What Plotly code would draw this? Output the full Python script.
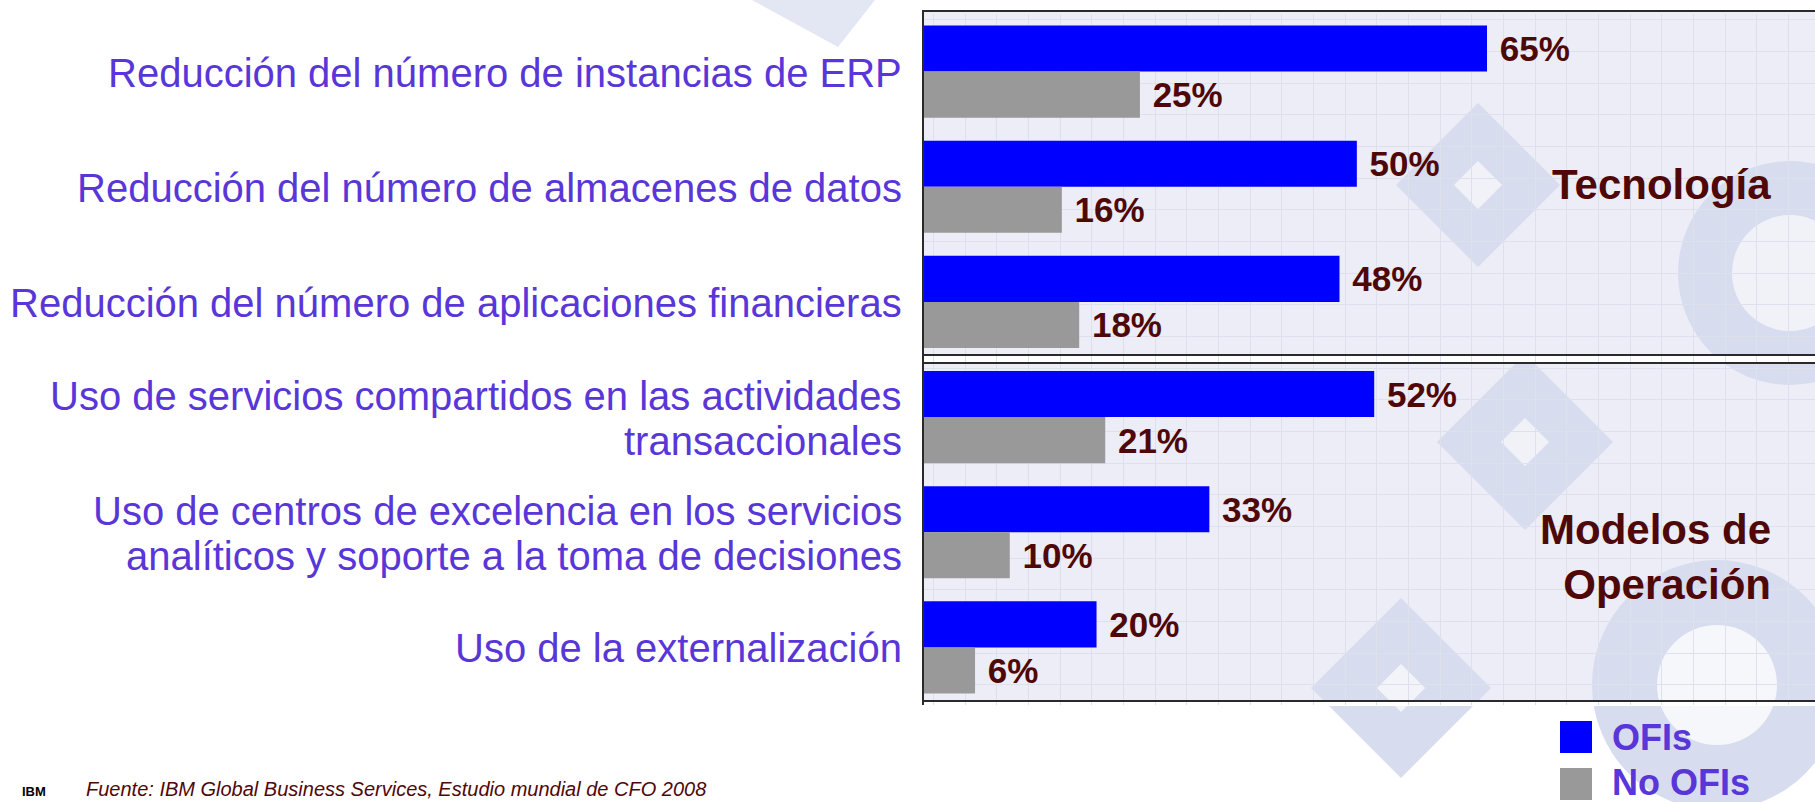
import plotly.graph_objects as go

# datos
categorias = [
    "Reducción del número de instancias de ERP",
    "Reducción del número de almacenes de datos",
    "Reducción del número de aplicaciones financieras",
    "Uso de servicios compartidos en las actividades<br>transaccionales",
    "Uso de centros de excelencia en los servicios<br>analíticos y soporte a la toma de decisiones",
    "Uso de la externalización",
]
ofis = [65, 50, 48, 52, 33, 20]
no_ofis = [25, 16, 18, 21, 10, 6]
posiciones = list(range(len(categorias)))

W, H = 1815, 802
L, T, B = 923, 14, 97
PLOT_W = W - L
PLOT_H = H - T - B

AZUL = "#0000FF"
GRIS = "#999999"
MORADO = "#5836D8"
GRANATE = "#4F0808"
FONDO = "#ECEDF6"
MARCA = "#D8DCEF"
GRID = "#DFE0EE"
FUENTE = "Liberation Sans, Arial, sans-serif"


def px_x(px):
    return (px - L) / PLOT_W


def px_y(py):
    return (H - B - py) / PLOT_H


def rect(x0, y0, x1, y1, **kw):
    return dict(type="rect", xref="paper", yref="paper",
                x0=px_x(x0), x1=px_x(x1), y0=px_y(y1), y1=px_y(y0), **kw)


def rombo(cx, cy, r, color):
    pts = [(cx, cy - r), (cx + r, cy), (cx, cy + r), (cx - r, cy)]
    path = "M " + " L ".join(f"{px_x(x):.5f},{px_y(y):.5f}" for x, y in pts) + " Z"
    return dict(type="path", xref="paper", yref="paper", path=path,
                fillcolor=color, line=dict(width=0), layer="below")


def circulo(cx, cy, r, color):
    return dict(type="circle", xref="paper", yref="paper",
                x0=px_x(cx - r), x1=px_x(cx + r), y0=px_y(cy + r), y1=px_y(cy - r),
                fillcolor=color, line=dict(width=0), layer="below")


fig = go.Figure()
fig.add_trace(go.Bar(
    y=posiciones, x=ofis, orientation="h", name="OFIs",
    marker=dict(color=AZUL, line=dict(width=0)),
    texttemplate="\u00a0%{x}%", textposition="outside", cliponaxis=False,
    textfont=dict(size=35, color=GRANATE, family=FUENTE, weight="bold"),
))
fig.add_trace(go.Bar(
    y=posiciones, x=no_ofis, orientation="h", name="No OFIs",
    marker=dict(color=GRIS, line=dict(width=0)),
    texttemplate="\u00a0%{x}%", textposition="outside", cliponaxis=False,
    textfont=dict(size=35, color=GRANATE, family=FUENTE, weight="bold"),
))

shapes = [
    # fondo de los dos paneles
    rect(L, 11, W + 20, 355, fillcolor=FONDO, line=dict(width=0), layer="below"),
    rect(L, 363, W + 20, 701, fillcolor=FONDO, line=dict(width=0), layer="below"),
    # marca de agua
    dict(type="path", xref="paper", yref="paper",
         path=f"M {px_x(752):.5f},{px_y(0):.5f} L {px_x(875):.5f},{px_y(0):.5f} L {px_x(838):.5f},{px_y(47):.5f} Z",
         fillcolor="#E3E6F3", line=dict(width=0), layer="below"),
    circulo(1790, 273, 112, MARCA), circulo(1790, 273, 58, "#F1F2F8"),
    circulo(1717, 685, 125, MARCA), circulo(1717, 685, 60, "#F6F7FB"),
    rombo(1478, 185, 82, MARCA), rombo(1478, 185, 24, "#F1F2F8"),
    rombo(1525, 442, 88, MARCA), rombo(1525, 442, 24, "#F1F2F8"),
    rombo(1401, 688, 90, MARCA), rombo(1401, 688, 24, "#F3F4F9"),
    # separación blanca entre paneles
    rect(L, 356, W + 20, 362, fillcolor="white", line=dict(width=0), layer="between"),
    rect(L, 702, W + 20, 706, fillcolor="white", line=dict(width=0), layer="between"),
    # bordes
    rect(L, 11, W + 20, 355, line=dict(color="#2A2A2A", width=2), layer="above"),
    rect(L, 363, W + 20, 701, line=dict(color="#2A2A2A", width=2), layer="above"),
    dict(type="line", xref="paper", yref="paper", x0=0, x1=0, y0=px_y(705), y1=px_y(11),
         line=dict(color="#2A2A2A", width=2), layer="above"),
    # leyenda
    rect(1560, 721, 1592, 753, fillcolor=AZUL, line=dict(width=0), layer="above"),
    rect(1560, 768, 1592, 800, fillcolor=GRIS, line=dict(width=0), layer="above"),
]

annotations = [
    dict(text="Tecnología", x=px_x(1773), y=px_y(184), xanchor="right", yanchor="middle",
         font=dict(size=42, color=GRANATE, family=FUENTE, weight="bold")),
    dict(text="Modelos de<br>Operación", x=px_x(1773), y=px_y(557), xanchor="right",
         yanchor="middle", align="right",
         font=dict(size=42, color=GRANATE, family=FUENTE, weight="bold")),
    dict(text="OFIs", x=px_x(1610), y=px_y(737), xanchor="left", yanchor="middle",
         font=dict(size=36, color=MORADO, family=FUENTE, weight="bold")),
    dict(text="No OFIs", x=px_x(1610), y=px_y(783), xanchor="left", yanchor="middle",
         font=dict(size=36, color=MORADO, family=FUENTE, weight="bold")),
    dict(text="<i>Fuente: IBM Global Business Services, Estudio mundial de CFO 2008</i>",
         x=px_x(84), y=px_y(789), xanchor="left", yanchor="middle",
         font=dict(size=20, color=GRANATE, family=FUENTE)),
    dict(text="IBM", x=px_x(20), y=px_y(801), xanchor="left", yanchor="bottom",
         font=dict(size=13, color="black", family=FUENTE, weight="bold")),
]
for a in annotations:
    a.update(xref="paper", yref="paper", showarrow=False)

# etiquetas de categoría, una anotación por línea para ajustar el interlineado
INTERLINEA = 45
for pos, cat in zip(posiciones, categorias):
    lineas = cat.split("<br>")
    n = len(lineas)
    for i, linea in enumerate(lineas):
        annotations.append(dict(
            text=linea, xref="paper", yref="y", x=0, y=pos,
            xanchor="right", yanchor="middle", xshift=-19,
            yshift=-(i - (n - 1) / 2) * INTERLINEA - 1, showarrow=False,
            font=dict(size=40, color=MORADO, family=FUENTE),
        ))

fig.update_layout(
    width=W, height=H, autosize=False,
    margin=dict(l=L, r=0, t=T, b=B, pad=0),
    paper_bgcolor="white", plot_bgcolor="rgba(0,0,0,0)",
    barmode="group", bargap=0.2, bargroupgap=0,
    showlegend=False,
    font=dict(family=FUENTE),
    shapes=shapes, annotations=annotations,
)
fig.update_xaxes(
    range=[0, 102.8], showticklabels=False, ticks="",
    showgrid=True, dtick=3.65, tick0=1.2, gridcolor=GRID, gridwidth=1,
    zeroline=False, showline=False,
)
fig.update_yaxes(
    range=[5.5, -0.5], tickmode="array", tickvals=posiciones,
    showticklabels=False, ticks="", showgrid=False, zeroline=False, showline=False,
    minor=dict(showgrid=True, dtick=0.275, tick0=-0.45, gridcolor=GRID, gridwidth=1),
)

fig.write_html(
    "out.html",
    config={"displayModeBar": False},
    post_script="document.body.style.margin='0';document.body.style.overflow='hidden';",
)
